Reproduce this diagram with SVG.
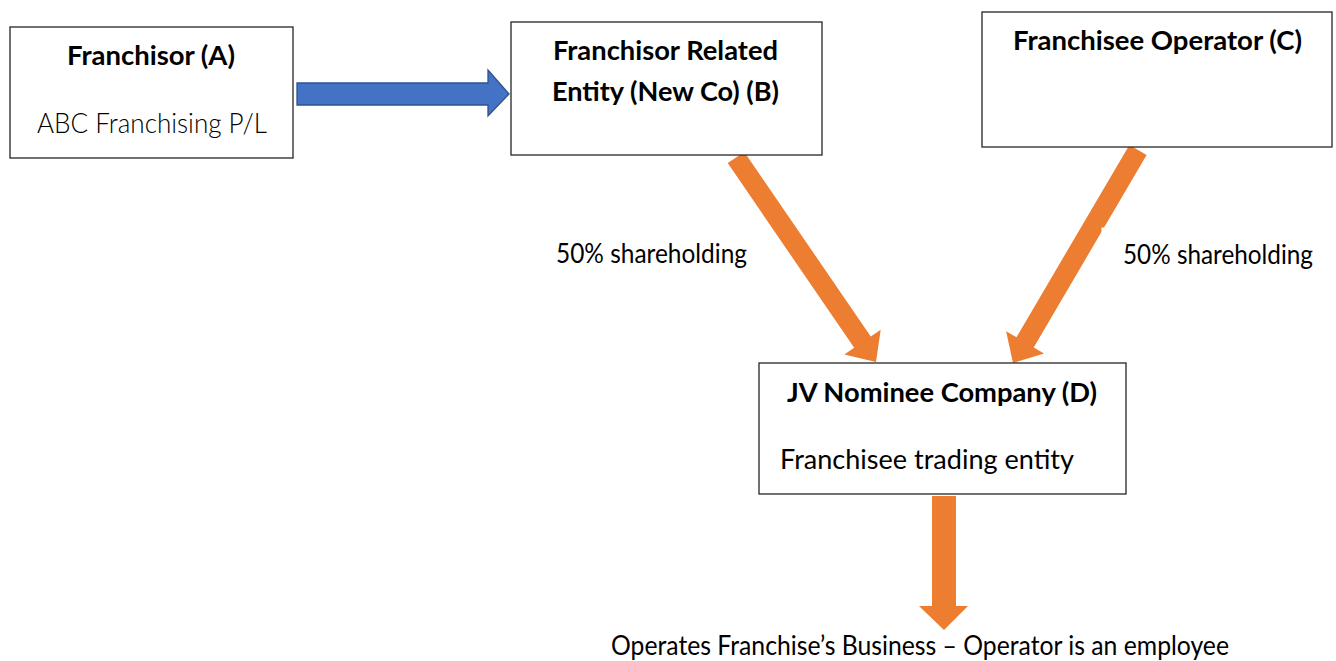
<svg xmlns="http://www.w3.org/2000/svg" width="1336" height="661" viewBox="0 0 1336 661">
<style>
.box{fill:#fff;stroke:#262626;stroke-width:1.3}
.t{font-family:Lato,"Open Sans","Liberation Sans",sans-serif;fill:#000}
.b{font-weight:bold;font-size:27px}
.r{font-size:26px}
.l{font-size:28px;font-weight:300}
.or{fill:#ED7D31}
.bl{fill:#4472C4;stroke:#2F528F;stroke-width:1.3}
</style>
<rect width="1336" height="661" fill="#fff"/>
<g id="connectors">
<polygon class="bl" points="297,83 488,83 488,70 509,94 488,116 488,105 297,105"/>
<polygon class="or" points="744.3,151.9 870.8,336.6 880.7,329.8 876,362 844.3,354.6 854.2,347.8 727.7,163.1"/>
<polygon class="or" points="1146.6,155.1 1033.7,347.4 1044.1,353.4 1013,363 1006.1,331.2 1016.5,337.2 1129.4,144.9"/>
<polygon class="or" points="932,496 956,496 956,606 968,606 944,630 919,606 932,606"/>
</g>
<g id="labels">
<text class="t r" x="556" y="263" textLength="191" lengthAdjust="spacingAndGlyphs">50% shareholding</text>
<rect x="1101.5" y="227.5" width="220" height="45" fill="#fff"/>
<text class="t r" x="1123" y="264" textLength="190" lengthAdjust="spacingAndGlyphs">50% shareholding</text>
<text class="t r" x="611" y="655" textLength="618" lengthAdjust="spacingAndGlyphs">Operates Franchise’s Business – Operator is an employee</text>
</g>
<g id="nodeA">
<rect class="box" x="10" y="27" width="283" height="131"/>
<text class="t b" x="67" y="65" textLength="168" lengthAdjust="spacingAndGlyphs">Franchisor (A)</text>
<text class="t l" x="37" y="133" textLength="230" lengthAdjust="spacingAndGlyphs">ABC Franchising P/L</text>
</g>
<g id="nodeB">
<rect class="box" x="511" y="22" width="311" height="133"/>
<text class="t b" x="553" y="60" textLength="225" lengthAdjust="spacingAndGlyphs">Franchisor Related</text>
<text class="t b" x="552" y="101" textLength="227" lengthAdjust="spacingAndGlyphs">Entity (New Co) (B)</text>
</g>
<g id="nodeC">
<rect class="box" x="982" y="12" width="350" height="135"/>
<text class="t b" x="1013" y="50" textLength="289" lengthAdjust="spacingAndGlyphs">Franchisee Operator (C)</text>
</g>
<g id="nodeD">
<rect class="box" x="759" y="363" width="367" height="131"/>
<text class="t b" x="787" y="402" textLength="310" lengthAdjust="spacingAndGlyphs">JV Nominee Company (D)</text>
<text class="t r" x="780" y="469" textLength="294" lengthAdjust="spacingAndGlyphs">Franchisee trading entity</text>
</g>
</svg>
